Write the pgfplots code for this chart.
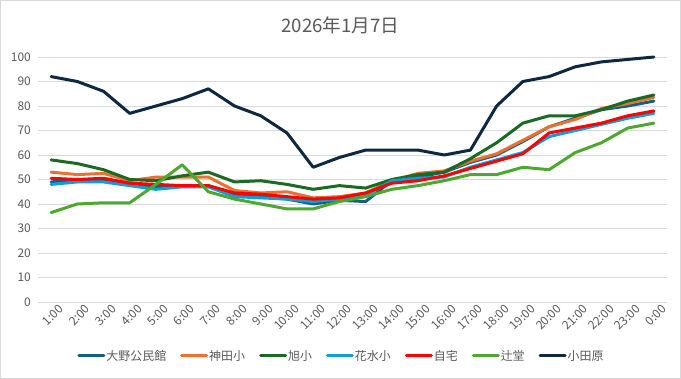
\documentclass[border=0pt]{standalone}
\usepackage{pgfplots}
\usepackage{pgfplotstable}
\pgfplotsset{compat=1.18}
\usepackage{fontspec}
\setmainfont{Noto Sans CJK JP}
\definecolor{c1}{HTML}{156082}
\definecolor{c2}{HTML}{E97132}
\definecolor{c3}{HTML}{196B24}
\definecolor{c4}{HTML}{0F9ED5}
\definecolor{c5}{HTML}{FF0000}
\definecolor{c6}{HTML}{4EA72E}
\definecolor{c7}{HTML}{0E2841}
\definecolor{txt}{HTML}{595959}
\definecolor{gridc}{HTML}{D9D9D9}
\pgfplotstableread{
x  oono kanda asahi hana jitaku tsuji odawara
0  49   53   58   48   50.5 36.5 92
1  50   52   56.5 49   50   40   90
2  49.5 52.5 54   49   50.5 40.5 86
3  48.5 49.5 50   47.5 48.5 40.5 77
4  47   51   49.5 46   48   48   80
5  47.5 51   51.5 47   47.5 56   83
6  47.5 51   53   47   47.5 45   87
7  44   45.5 49   43   44.5 42   80
8  43   44.5 49.5 42.5 44   40   76
9  42   45   48   42   43   38   69
10 40   42.5 46   41   42   38   55
11 41.5 43   47.5 42   42.5 41   59
12 41   44.5 46.5 43.5 44.5 43   62
13 49.5 49.5 50   49.5 48.5 46   62
14 51   52.5 52   50.5 49.5 47.5 62
15 53   53.5 53   51   51.5 49.5 60
16 57   57.5 58.5 55   54.5 52   62
17 60   60.5 65   58   57.5 52   80
18 65.5 66   73   61   60.5 55   90
19 71.5 71.5 76   67.5 69   54   92
20 75   74.5 76   70   71   61   96
21 78.5 79   78.5 72.5 73   65   98
22 80   81   82   75   76   71   99
23 82   83.5 84.5 77   78   73   100
}\data
\begin{document}
\begin{tikzpicture}
\draw[draw=gridc, line width=1bp] (0.5bp,0.5bp) rectangle (680.5bp,378.5bp);
\begin{axis}[
  at={(38bp,77bp)}, anchor=south west,
  scale only axis, width=629bp, height=245bp,
  xmin=-0.5, xmax=23.5, ymin=0, ymax=100,
  ytick={0,10,...,100},
  xtick={0,...,23},
  xticklabels={1:00,2:00,3:00,4:00,5:00,6:00,7:00,8:00,9:00,10:00,11:00,12:00,13:00,14:00,15:00,16:00,17:00,18:00,19:00,20:00,21:00,22:00,23:00,0:00},
  axis line style={draw=none},
  major tick length=0pt,
  ymajorgrids, major grid style={draw=gridc, line width=0.75bp},
  /pgf/number format/assume math mode=true,
  ticklabel style={font=\fontsize{12}{14}\selectfont, text=txt},
  yticklabel style={anchor=east, inner sep=0pt, xshift=-7bp},
  xticklabel style={rotate=45, anchor=north east, inner sep=0pt, yshift=-6bp, xshift=4bp},
  clip=false,
  every axis plot/.append style={line width=3bp, line join=round, line cap=round},
  legend columns=7,
  legend style={at={(0.4817,-0.2204)}, anchor=center, draw=none, fill=none,
    font=\fontsize{12}{14}\selectfont, text=txt,
    nodes={inner sep=1bp},
    /tikz/every even column/.append style={column sep=13bp}},
  legend image code/.code={\draw[#1] (0bp,0bp) -- (25bp,0bp);},
]
\addplot[c1] table[x=x,y=oono] {\data};
\addlegendentry{大野公民館}
\addplot[c2] table[x=x,y=kanda] {\data};
\addlegendentry{神田小}
\addplot[c3] table[x=x,y=asahi] {\data};
\addlegendentry{旭小}
\addplot[c4] table[x=x,y=hana] {\data};
\addlegendentry{花水小}
\addplot[c5] table[x=x,y=jitaku] {\data};
\addlegendentry{自宅}
\addplot[c6] table[x=x,y=tsuji] {\data};
\addlegendentry{辻堂}
\addplot[c7] table[x=x,y=odawara] {\data};
\addlegendentry{小田原}
\end{axis}
\node[text=txt, font=\fontsize{18.7}{22}\selectfont] at (340.5bp,354bp) {2026年1月7日};
\end{tikzpicture}
\end{document}
